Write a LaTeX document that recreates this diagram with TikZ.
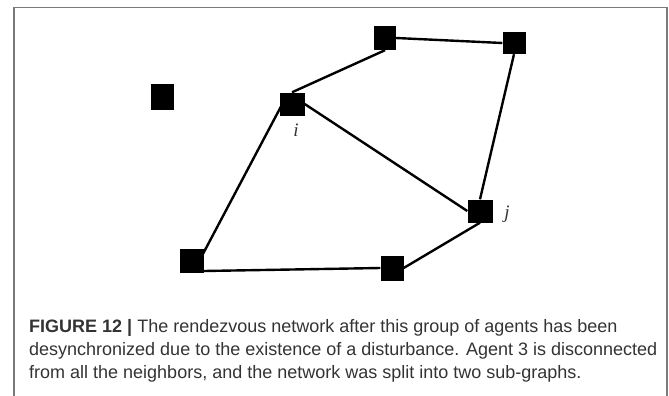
\documentclass[tikz,border=0pt]{standalone}
\usepackage{fontspec}
\setmainfont{Liberation Sans}
\newfontfamily\labelfont{Liberation Serif}
\definecolor{framegray}{HTML}{7A7A7A}
\definecolor{captiontext}{HTML}{333333}
\begin{document}
\begin{tikzpicture}[x=1pt,y=-1pt,
  agent/.style={rectangle, fill=black, inner sep=0pt,
                minimum width=23pt, minimum height=23pt},
  link/.style={line width=2.4pt, black},
  tag/.style={inner sep=0pt, font=\labelfont\itshape\fontsize{19}{19}\selectfont, text=captiontext},
  capline/.style={anchor=base west, inner sep=0pt, text=captiontext,
                  font=\fontsize{18}{23}\selectfont}]
  \useasboundingbox (0,0) rectangle (669,396);
  % outer frame, open at the bottom
  \draw[framegray, line width=1.5pt] (14,396) -- (14,7.5) -- (667,7.5) -- (667,396);

  % agents
  \node[agent, minimum width=22pt, minimum height=24pt] (top) at (385,38) {};
  \node[agent, minimum height=22pt] (tr) at (514,43) {};
  \node[agent, minimum height=26pt] (iso) at (162,97) {};
  \node[agent, minimum width=25pt] (i) at (292,104) {};
  \node[agent, minimum width=25pt] (j) at (480,211) {};
  \node[agent, minimum width=24pt, minimum height=24pt] (bl) at (192,261) {};
  \node[agent, minimum height=25pt] (bm) at (392,268) {};

  % communication links
  \draw[link] (top.east) -- (tr.west);
  \draw[link] (i.north) -- (top.south);
  \draw[link] (tr.south) -- (j.north);
  \draw[link] (i.east) -- (j.west);
  \draw[link] ([xshift=3pt]i.west) -- ([xshift=-5pt]bl.east);
  \draw[link] ([yshift=-10pt]bl.east) -- (bm.west);
  \draw[link] (j.south) -- (bm.east);

  % agent labels
  \node[tag] (li) at (296,130) {i};
  \node[tag] (lj) at (507,214) {j};

  % caption
  \node[capline] (c1) at (29,332) {\textbf{FIGURE 12 |} The rendezvous network after this group of agents has been};
  \node[capline] (c2) at (29,355) {desynchronized due to the existence of a disturbance. Agent 3 is disconnected};
  \node[capline] (c3) at (29,378) {from all the neighbors, and the network was split into two sub-graphs.};
\end{tikzpicture}
\end{document}
